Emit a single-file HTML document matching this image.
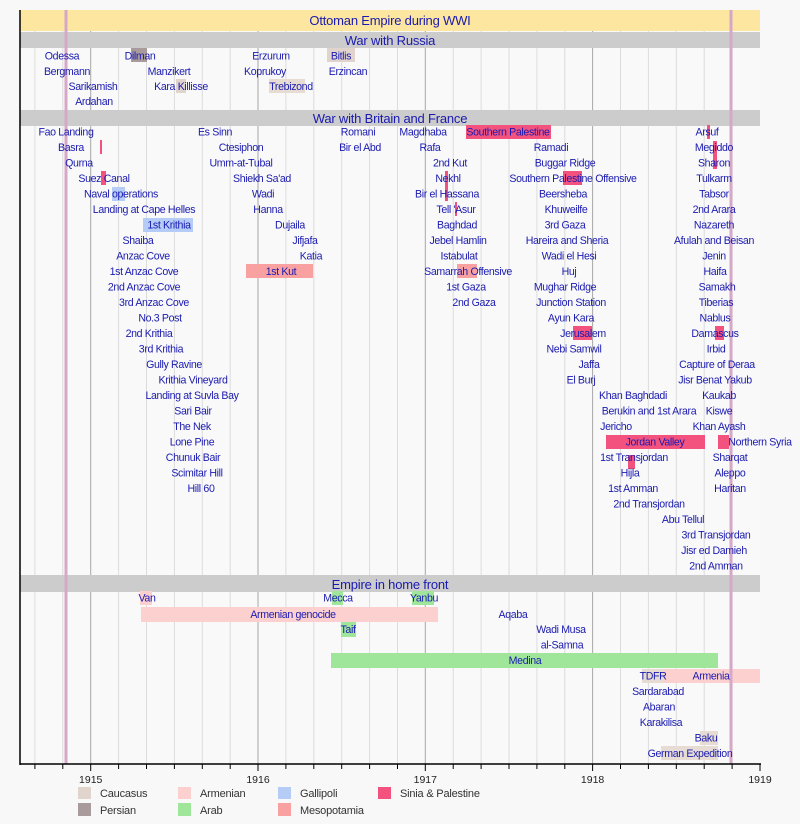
<!DOCTYPE html>
<html><head><meta charset="utf-8"><style>
html,body{margin:0;padding:0;background:#f8f8f8;}
svg{display:block;font-family:"Liberation Sans",Arial,sans-serif;}
.t{font-size:10.6px;letter-spacing:-0.35px;fill:#1a1ab0;text-anchor:middle;}
.h{font-size:13px;letter-spacing:-0.2px;fill:#1a1ab0;text-anchor:middle;}
.l{font-size:11px;letter-spacing:-0.2px;fill:#333;}
.y{font-size:10.5px;fill:#222;text-anchor:middle;}
</style></head><body>
<svg width="800" height="824" viewBox="0 0 800 824" xmlns="http://www.w3.org/2000/svg">
<rect x="0" y="0" width="800" height="824" fill="#f8f8f8"/>
<rect x="20" y="10" width="740" height="754" fill="#f9f9f9"/>
<g stroke="#dcdcdc" stroke-width="1">
<line x1="34.9" y1="10" x2="34.9" y2="764"/><line x1="62.8" y1="10" x2="62.8" y2="764"/>
<line x1="118.6" y1="10" x2="118.6" y2="764"/><line x1="146.5" y1="10" x2="146.5" y2="764"/><line x1="174.4" y1="10" x2="174.4" y2="764"/><line x1="202.3" y1="10" x2="202.3" y2="764"/><line x1="230.2" y1="10" x2="230.2" y2="764"/>
<line x1="285.9" y1="10" x2="285.9" y2="764"/><line x1="313.8" y1="10" x2="313.8" y2="764"/><line x1="341.7" y1="10" x2="341.7" y2="764"/><line x1="369.6" y1="10" x2="369.6" y2="764"/><line x1="397.5" y1="10" x2="397.5" y2="764"/>
<line x1="453.2" y1="10" x2="453.2" y2="764"/><line x1="481.1" y1="10" x2="481.1" y2="764"/><line x1="509" y1="10" x2="509" y2="764"/><line x1="536.9" y1="10" x2="536.9" y2="764"/><line x1="564.8" y1="10" x2="564.8" y2="764"/>
<line x1="620.5" y1="10" x2="620.5" y2="764"/><line x1="648.4" y1="10" x2="648.4" y2="764"/><line x1="676.3" y1="10" x2="676.3" y2="764"/><line x1="704.2" y1="10" x2="704.2" y2="764"/><line x1="732.1" y1="10" x2="732.1" y2="764"/>
</g>
<g stroke="#a8a8a8" stroke-width="1">
<line x1="90.7" y1="10" x2="90.7" y2="764"/><line x1="258" y1="10" x2="258" y2="764"/><line x1="425.3" y1="10" x2="425.3" y2="764"/><line x1="592.6" y1="10" x2="592.6" y2="764"/>
</g>
<rect x="20" y="10" width="740" height="21" fill="#fce6a0"/>
<text class="h" x="390" y="25">Ottoman Empire during WWI</text>
<rect x="20" y="32" width="740" height="16" fill="#cccccc"/>
<text class="h" x="390" y="45">War with Russia</text>
<rect x="20" y="110" width="740" height="16" fill="#cccccc"/>
<text class="h" x="390" y="123">War with Britain and France</text>
<rect x="20" y="575" width="740" height="17" fill="#cccccc"/>
<text class="h" x="390" y="589">Empire in home front</text>

<g>
<rect x="131" y="48" width="16" height="14" fill="#a99b9b"/>
<rect x="327" y="48" width="28" height="14" fill="#e0d4cc"/>
<rect x="269" y="79" width="36" height="14" fill="#e6dcd4"/>
<rect x="176" y="79" width="10" height="14" fill="#e0d4cc"/>
<rect x="466" y="125" width="85" height="14" fill="#f3527e"/>
<rect x="101" y="171" width="5" height="14" fill="#f3527e"/>
<rect x="112" y="187" width="13" height="14" fill="#b4ccf6"/>
<rect x="143" y="218" width="50" height="14" fill="#b4ccf6"/>
<rect x="246" y="264" width="67" height="14" fill="#f9a0a0"/>
<rect x="457" y="264" width="20" height="14" fill="#f9a0a0"/>
<rect x="563" y="171" width="19" height="14" fill="#f3527e"/>
<rect x="573" y="326" width="19" height="14" fill="#f3527e"/>
<rect x="715" y="326" width="9" height="14" fill="#f3527e"/>
<rect x="606" y="435" width="99" height="14" fill="#f3527e"/>
<rect x="718" y="435" width="11" height="14" fill="#f3527e"/>
<rect x="628" y="455" width="7" height="14" fill="#f3527e"/>
<rect x="707" y="125" width="3" height="14" fill="#f3527e"/>
<rect x="713" y="141" width="4" height="28" fill="#f3527e"/>
<rect x="445" y="171" width="3" height="30" fill="#f3527e"/>
<rect x="455" y="202" width="2" height="14" fill="#f3527e"/>
<rect x="100" y="140" width="2" height="14" fill="#f3527e"/>
<rect x="140" y="591" width="12" height="14" fill="#fdd0d0"/>
<rect x="332" y="591" width="11" height="14" fill="#a0e69a"/>
<rect x="412" y="591" width="22" height="14" fill="#a0e69a"/>
<rect x="141" y="607" width="297" height="15" fill="#fdd0d0"/>
<rect x="341" y="622" width="15" height="15" fill="#a0e69a"/>
<rect x="331" y="653" width="387" height="15" fill="#a0e69a"/>
<rect x="642" y="669" width="21" height="14" fill="#e6dcd4"/>
<rect x="663" y="669" width="97" height="14" fill="#fdd0d0"/>
<rect x="700" y="731" width="18" height="14" fill="#e6dcd4"/>
<rect x="661" y="746" width="57" height="14" fill="#e6dcd4"/>
</g>
<rect x="64.5" y="10" width="3" height="754" fill="#d6a8c8"/>
<rect x="729.5" y="10" width="3" height="754" fill="#d6a8c8"/>

<g class="t">
<text x="62" y="59.5">Odessa</text><text x="140" y="59.5">Dilman</text><text x="271" y="59.5">Erzurum</text><text x="341" y="59.5">Bitlis</text>
<text x="67" y="75">Bergmann</text><text x="169" y="75">Manzikert</text><text x="265" y="75">Koprukoy</text><text x="348" y="75">Erzincan</text>
<text x="93" y="90">Sarikamish</text><text x="181" y="90">Kara Killisse</text><text x="291" y="90">Trebizond</text>
<text x="94" y="105">Ardahan</text>
</g>
<g class="t">
<text x="66" y="135.5">Fao Landing</text><text x="215" y="135.5">Es Sinn</text><text x="358" y="135.5">Romani</text><text x="423" y="135.5">Magdhaba</text><text x="508" y="135.5">Southern Palestine</text><text x="707" y="135.5">Arsuf</text>
<text x="71" y="151">Basra</text><text x="241" y="151">Ctesiphon</text><text x="360" y="151">Bir el Abd</text><text x="430" y="151">Rafa</text><text x="551" y="151">Ramadi</text><text x="714" y="151">Megiddo</text>
<text x="79" y="166.5">Qurna</text><text x="241" y="166.5">Umm-at-Tubal</text><text x="450" y="166.5">2nd Kut</text><text x="565" y="166.5">Buggar Ridge</text><text x="714" y="166.5">Sharon</text>
<text x="104" y="182">Suez Canal</text><text x="262" y="182">Shiekh Sa'ad</text><text x="448" y="182">Nekhl</text><text x="573" y="182">Southern Palestine Offensive</text><text x="714" y="182">Tulkarm</text>
<text x="121" y="197.5">Naval operations</text><text x="263" y="197.5">Wadi</text><text x="447" y="197.5">Bir el Hassana</text><text x="563" y="197.5">Beersheba</text><text x="714" y="197.5">Tabsor</text>
<text x="144" y="213">Landing at Cape Helles</text><text x="268" y="213">Hanna</text><text x="456" y="213">Tell 'Asur</text><text x="566" y="213">Khuweilfe</text><text x="714" y="213">2nd Arara</text>
<text x="169" y="228.5">1st Krithia</text><text x="290" y="228.5">Dujaila</text><text x="457" y="228.5">Baghdad</text><text x="565" y="228.5">3rd Gaza</text><text x="714" y="228.5">Nazareth</text>
<text x="138" y="244">Shaiba</text><text x="305" y="244">Jifjafa</text><text x="458" y="244">Jebel Hamlin</text><text x="567" y="244">Hareira and Sheria</text><text x="714" y="244">Afulah and Beisan</text>
<text x="143" y="259.5">Anzac Cove</text><text x="311" y="259.5">Katia</text><text x="459" y="259.5">Istabulat</text><text x="569" y="259.5">Wadi el Hesi</text><text x="714" y="259.5">Jenin</text>
<text x="144" y="275">1st Anzac Cove</text><text x="281" y="275">1st Kut</text><text x="468" y="275">Samarrah Offensive</text><text x="569" y="275">Huj</text><text x="715" y="275">Haifa</text>
<text x="144" y="290.5">2nd Anzac Cove</text><text x="466" y="290.5">1st Gaza</text><text x="565" y="290.5">Mughar Ridge</text><text x="717" y="290.5">Samakh</text>
<text x="154" y="306">3rd Anzac Cove</text><text x="474" y="306">2nd Gaza</text><text x="571" y="306">Junction Station</text><text x="716" y="306">Tiberias</text>
<text x="160" y="321.5">No.3 Post</text><text x="571" y="321.5">Ayun Kara</text><text x="715" y="321.5">Nablus</text>
<text x="149" y="337">2nd Krithia</text><text x="583" y="337">Jerusalem</text><text x="715" y="337">Damascus</text>
<text x="161" y="352.5">3rd Krithia</text><text x="574" y="352.5">Nebi Samwil</text><text x="716" y="352.5">Irbid</text>
<text x="174" y="368">Gully Ravine</text><text x="589" y="368">Jaffa</text><text x="717" y="368">Capture of Deraa</text>
<text x="193" y="383.5">Krithia Vineyard</text><text x="581" y="383.5">El Burj</text><text x="715" y="383.5">Jisr Benat Yakub</text>
<text x="192" y="399">Landing at Suvla Bay</text><text x="633" y="399">Khan Baghdadi</text><text x="719" y="399">Kaukab</text>
<text x="193" y="414.5">Sari Bair</text><text x="649" y="414.5">Berukin and 1st Arara</text><text x="719" y="414.5">Kiswe</text>
<text x="192" y="430">The Nek</text><text x="616" y="430">Jericho</text><text x="719" y="430">Khan Ayash</text>
<text x="192" y="445.5">Lone Pine</text><text x="655" y="445.5">Jordan Valley</text><text x="760" y="445.5">Northern Syria</text>
<text x="193" y="461">Chunuk Bair</text><text x="634" y="461">1st Transjordan</text><text x="730" y="461">Sharqat</text>
<text x="197" y="476.5">Scimitar Hill</text><text x="630" y="476.5">Hijla</text><text x="730" y="476.5">Aleppo</text>
<text x="201" y="492">Hill 60</text><text x="633" y="492">1st Amman</text><text x="730" y="492">Haritan</text>
<text x="649" y="507.5">2nd Transjordan</text>
<text x="683" y="523">Abu Tellul</text>
<text x="716" y="538.5">3rd Transjordan</text>
<text x="714" y="554">Jisr ed Damieh</text>
<text x="716" y="569.5">2nd Amman</text>
</g>
<g class="t">
<text x="147" y="601.5">Van</text><text x="338" y="601.5">Mecca</text><text x="424" y="601.5">Yanbu</text>
<text x="293" y="618">Armenian genocide</text><text x="513" y="618">Aqaba</text>
<text x="348" y="633">Taif</text><text x="561" y="633">Wadi Musa</text>
<text x="562" y="648.5">al-Samna</text>
<text x="525" y="664">Medina</text>
<text x="653" y="679.5">TDFR</text><text x="711" y="679.5">Armenia</text>
<text x="658" y="695">Sardarabad</text>
<text x="659" y="710.5">Abaran</text>
<text x="661" y="726">Karakilisa</text>
<text x="706" y="741.5">Baku</text>
<text x="690" y="757">German Expedition</text>
</g>
<line x1="20" y1="10" x2="20" y2="765" stroke="#000" stroke-width="1.5"/>
<line x1="20" y1="764" x2="761" y2="764" stroke="#000" stroke-width="1.5"/>
<g stroke="#000" stroke-width="1">
<line x1="34.9" y1="764" x2="34.9" y2="769"/><line x1="62.8" y1="764" x2="62.8" y2="769"/><line x1="90.7" y1="764" x2="90.7" y2="771"/>
<line x1="118.6" y1="764" x2="118.6" y2="769"/><line x1="146.5" y1="764" x2="146.5" y2="769"/><line x1="174.4" y1="764" x2="174.4" y2="769"/><line x1="202.3" y1="764" x2="202.3" y2="769"/><line x1="230.2" y1="764" x2="230.2" y2="769"/><line x1="258" y1="764" x2="258" y2="771"/>
<line x1="285.9" y1="764" x2="285.9" y2="769"/><line x1="313.8" y1="764" x2="313.8" y2="769"/><line x1="341.7" y1="764" x2="341.7" y2="769"/><line x1="369.6" y1="764" x2="369.6" y2="769"/><line x1="397.5" y1="764" x2="397.5" y2="769"/><line x1="425.3" y1="764" x2="425.3" y2="771"/>
<line x1="453.2" y1="764" x2="453.2" y2="769"/><line x1="481.1" y1="764" x2="481.1" y2="769"/><line x1="509" y1="764" x2="509" y2="769"/><line x1="536.9" y1="764" x2="536.9" y2="769"/><line x1="564.8" y1="764" x2="564.8" y2="769"/><line x1="592.6" y1="764" x2="592.6" y2="771"/>
<line x1="620.5" y1="764" x2="620.5" y2="769"/><line x1="648.4" y1="764" x2="648.4" y2="769"/><line x1="676.3" y1="764" x2="676.3" y2="769"/><line x1="704.2" y1="764" x2="704.2" y2="769"/><line x1="732.1" y1="764" x2="732.1" y2="769"/><line x1="760" y1="764" x2="760" y2="771"/>
</g>
<g class="y">
<text x="90.7" y="783">1915</text><text x="258" y="783">1916</text><text x="425.3" y="783">1917</text><text x="592.6" y="783">1918</text><text x="760" y="783">1919</text>
</g>
<rect x="78" y="787" width="13" height="12" fill="#e0d4cc"/><text class="l" x="100" y="797">Caucasus</text>
<rect x="78" y="803" width="13" height="13" fill="#a99b9b"/><text class="l" x="100" y="814">Persian</text>
<rect x="178" y="787" width="13" height="12" fill="#fdd0d0"/><text class="l" x="200" y="797">Armenian</text>
<rect x="178" y="803" width="13" height="13" fill="#a0e69a"/><text class="l" x="200" y="814">Arab</text>
<rect x="278" y="787" width="13" height="12" fill="#b4ccf6"/><text class="l" x="300" y="797">Gallipoli</text>
<rect x="278" y="803" width="13" height="13" fill="#f9a0a0"/><text class="l" x="300" y="814">Mesopotamia</text>
<rect x="378" y="787" width="13" height="12" fill="#f3527e"/><text class="l" x="400" y="797">Sinia &amp; Palestine</text>
</svg>
</body></html>
